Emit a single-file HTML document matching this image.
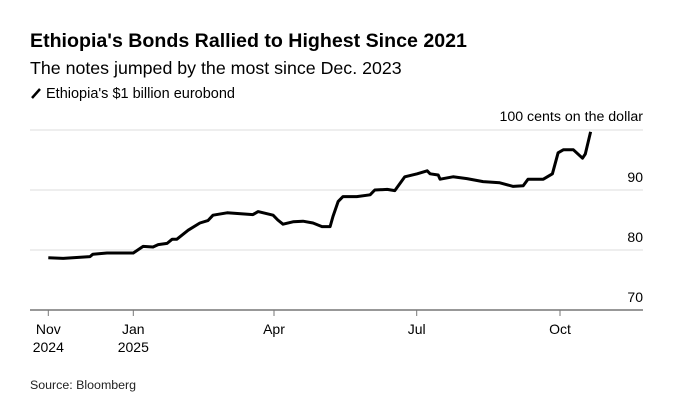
<!DOCTYPE html>
<html><head><meta charset="utf-8"><style>
body{margin:0;background:#fff;font-family:"Liberation Sans",sans-serif;}
svg{display:block}
</style></head><body>
<svg width="677" height="408">
<text x="30" y="47" font-size="19.6" font-weight="bold" fill="#000">Ethiopia's Bonds Rallied to Highest Since 2021</text>
<text x="30" y="74" font-size="17.8" fill="#000">The notes jumped by the most since Dec. 2023</text>
<g>
<line x1="32" y1="98" x2="40" y2="89" stroke="#000" stroke-width="2.5"/>
<text x="46" y="98" font-size="14.5" fill="#000">Ethiopia's $1 billion eurobond</text>
</g>
<g id="grid"></g>
<g id="xaxis"></g>
<g id="yl"></g>
<text x="643" y="121" font-size="14.2" text-anchor="end" fill="#000">100 cents on the dollar</text>
<path id="line" fill="none" stroke="#000" stroke-width="3" stroke-linejoin="round"/>
<text x="30" y="389" font-size="12.4" fill="#222">Source: Bloomberg</text>
</svg>
<script>
// months since Nov 1 2024
const months=[0,0.35,0.98,1.05,1.38,2.00,2.21,2.42,2.53,2.72,2.83,2.93,3.17,3.42,3.59,3.70,4.00,4.55,4.66,4.98,5.08,5.19,5.40,5.61,5.82,6.01,6.18,6.24,6.35,6.45,6.60,6.74,7.02,7.12,7.38,7.54,7.75,8.01,8.22,8.28,8.45,8.49,8.76,9.05,9.39,9.74,10.02,10.23,10.33,10.65,10.84,10.96,11.07,11.28,11.47,11.53,11.64];
const prices=[78.7,78.6,78.9,79.3,79.5,79.5,80.6,80.5,80.9,81.1,81.8,81.8,83.3,84.5,84.9,85.8,86.2,85.9,86.4,85.8,85.0,84.3,84.7,84.8,84.5,83.9,83.9,85.6,88.1,88.9,88.9,88.9,89.2,90.0,90.1,89.9,92.2,92.7,93.2,92.7,92.5,91.8,92.2,91.9,91.4,91.2,90.6,90.7,91.8,91.8,92.7,96.2,96.7,96.7,95.3,96.0,99.7];
const tickMonths=[0,2,5,8,11];
const tickLabels=[["Nov","2024"],["Jan","2025"],["Apr",""],["Jul",""],["Oct",""]];
const yTicks=[70,80,90,100];
const tickPx=[48.3,133.3,274,416.7,560];
function xs(m){let i=0;while(i<tickMonths.length-2&&m>tickMonths[i+1])i++;
 return tickPx[i]+(m-tickMonths[i])*(tickPx[i+1]-tickPx[i])/(tickMonths[i+1]-tickMonths[i]);}
function ys(v){return 130+(100-v)*6;}
const NS="http://www.w3.org/2000/svg";
const grid=document.getElementById('grid'),yl=document.getElementById('yl'),xa=document.getElementById('xaxis');
yTicks.forEach(v=>{
 if(v>70){const l=document.createElementNS(NS,'line');
 l.setAttribute('x1',30);l.setAttribute('x2',643);l.setAttribute('y1',ys(v));l.setAttribute('y2',ys(v));
 l.setAttribute('stroke','#dcdcdc');l.setAttribute('stroke-width','1');
 
 
 grid.appendChild(l);}
 if(v<100){const t=document.createElementNS(NS,'text');
 t.setAttribute('x',643);t.setAttribute('y',ys(v)-8);t.setAttribute('text-anchor','end');t.setAttribute('font-size','14');
 t.textContent=v;
 
 
 yl.appendChild(t);}
});
const ax=document.createElementNS(NS,'line');
ax.setAttribute('x1',30);ax.setAttribute('x2',643);ax.setAttribute('y1',310);ax.setAttribute('y2',310);
ax.setAttribute('stroke','#777');ax.setAttribute('stroke-width','1.5');


xa.appendChild(ax);
tickMonths.forEach((m,i)=>{
 const x=xs(m);
 const tk=document.createElementNS(NS,'line');
 tk.setAttribute('x1',x);tk.setAttribute('x2',x);tk.setAttribute('y1',310);tk.setAttribute('y2',316);tk.setAttribute('stroke','#777');
 
 
 xa.appendChild(tk);
 tickLabels[i].forEach((s,j)=>{ if(!s)return;
  const t=document.createElementNS(NS,'text');
  t.setAttribute('x',x);t.setAttribute('y',334+j*18);t.setAttribute('text-anchor','middle');t.setAttribute('font-size','14');
  t.textContent=s;
  
  
  xa.appendChild(t);});
});
document.getElementById('line').setAttribute('d',months.map((m,i)=>(i?'L':'M')+xs(m).toFixed(1)+' '+ys(prices[i]).toFixed(1)).join(' '));
</script>
</body></html>
